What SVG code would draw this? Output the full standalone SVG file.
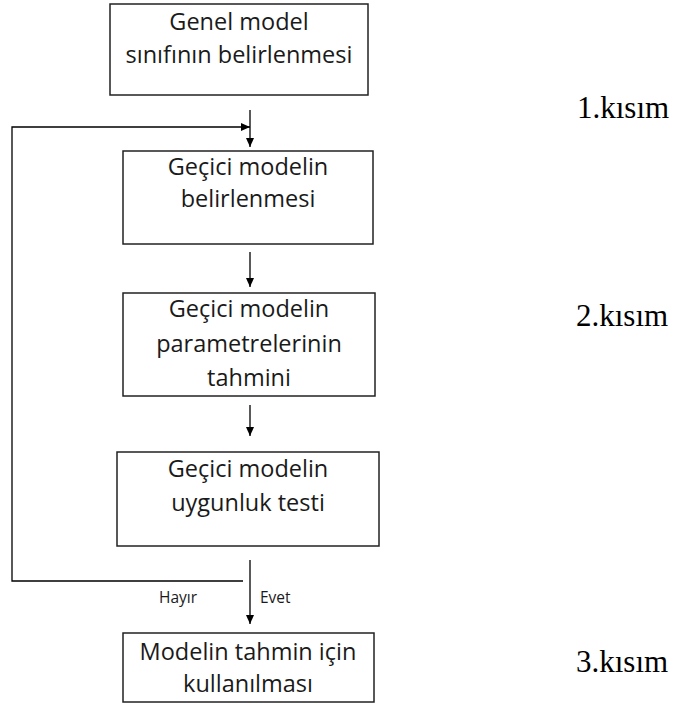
<svg xmlns="http://www.w3.org/2000/svg" width="674" height="707" viewBox="0 0 674 707">
<defs>
<marker id="ah" markerWidth="10" markerHeight="10" refX="9" refY="5" orient="auto" markerUnits="userSpaceOnUse">
<path d="M0,1 L9,5 L0,9 Z" fill="#000"/>
</marker>
<style>
.box{fill:#fff;stroke:#222;stroke-width:1.5}
.t{font-family:"Open Sans","Liberation Sans",sans-serif;font-size:23.5px;fill:#1a1a1a;text-anchor:middle}
.s{font-family:"Open Sans","Liberation Sans",sans-serif;font-size:15.5px;fill:#1a1a1a}
.k{font-family:"Liberation Serif",serif;font-size:31px;fill:#000}
.c{fill:none;stroke:#000;stroke-width:1.3}
</style>
</defs>
<rect width="674" height="707" fill="#fff"/>
<g id="connectors">
<line class="c" x1="250" y1="110" x2="250" y2="147" marker-end="url(#ah)"/>
<polyline class="c" points="243,581 12,581 12,127 250,127" marker-end="url(#ah)"/>
<line class="c" x1="250" y1="252" x2="250" y2="287" marker-end="url(#ah)"/>
<line class="c" x1="250" y1="405" x2="250" y2="436" marker-end="url(#ah)"/>
<line class="c" x1="250" y1="560" x2="250" y2="624" marker-end="url(#ah)"/>
<text class="s" x="159" y="603">Hayır</text>
<text class="s" x="260" y="603">Evet</text>
</g>
<g id="n1">
<rect class="box" x="110" y="4" width="258" height="91"/>
<text class="t" x="239" y="30">Genel model</text>
<text class="t" x="239" y="63">sınıfının belirlenmesi</text>
</g>
<g id="n2">
<rect class="box" x="123" y="151" width="250" height="93"/>
<text class="t" x="248" y="175">Geçici modelin</text>
<text class="t" x="248" y="207">belirlenmesi</text>
</g>
<g id="n3">
<rect class="box" x="123" y="293" width="252" height="103"/>
<text class="t" x="249" y="317">Geçici modelin</text>
<text class="t" x="249" y="352">parametrelerinin</text>
<text class="t" x="249" y="386">tahmini</text>
</g>
<g id="n4">
<rect class="box" x="117" y="452" width="262" height="94"/>
<text class="t" x="248" y="477">Geçici modelin</text>
<text class="t" x="248" y="511">uygunluk testi</text>
</g>
<g id="n5">
<rect class="box" x="123" y="633" width="251" height="69"/>
<text class="t" x="248" y="660">Modelin tahmin için</text>
<text class="t" x="248" y="692">kullanılması</text>
</g>
<g id="labels">
<text class="k" x="577" y="118">1.kısım</text>
<text class="k" x="576" y="326">2.kısım</text>
<text class="k" x="576" y="672">3.kısım</text>
</g>
</svg>
